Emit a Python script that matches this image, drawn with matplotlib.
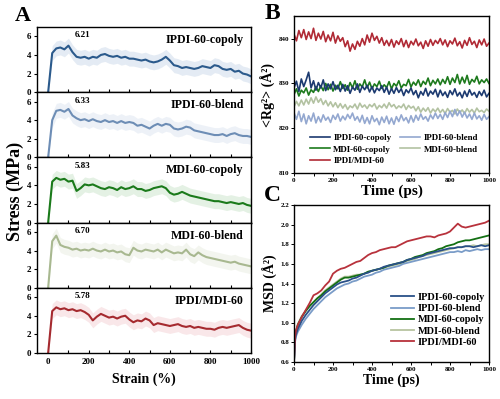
import numpy as np
import matplotlib
matplotlib.use('Agg')
import matplotlib.pyplot as plt
from matplotlib.ticker import MultipleLocator

plt.rcParams['font.family'] = ['Liberation Serif', 'DejaVu Serif']
plt.rcParams['font.weight'] = 'bold'
plt.rcParams['axes.linewidth'] = 1.0

# ---------------- data ----------------
# A: stress-strain, sampled every 20 % strain
strain = np.arange(0, 1001, 20)
stress_names = ['IPDI-60-copoly', 'IPDI-60-blend', 'MDI-60-copoly', 'MDI-60-blend', 'IPDI/MDI-60']
stress_peaks = ['6.21', '6.33', '5.83', '6.70', '5.78']
stress_ipdi_copoly = [0, 4.2, 4.7, 4.8, 4.6, 5.0, 4.3, 3.8, 3.7, 3.8, 3.6, 3.8, 3.7, 4.0, 4.1, 3.9, 3.8,
                      3.9, 3.7, 3.8, 3.6, 3.6, 3.5, 3.4, 3.5, 3.3, 3.2, 3.3, 3.5, 3.8, 3.4, 2.9, 2.8,
                      2.6, 2.7, 2.6, 2.5, 2.6, 2.8, 2.7, 2.6, 2.9, 2.8, 2.5, 2.4, 2.5, 2.2, 2.3, 2.0,
                      1.9, 1.7]
stress_ipdi_blend = [0, 4.0, 5.0, 5.1, 4.9, 5.2, 4.5, 4.2, 4.0, 4.1, 3.9, 4.1, 3.9, 3.8, 4.0, 3.8, 3.9,
                     3.7, 3.9, 3.7, 3.8, 3.7, 3.4, 3.5, 3.3, 3.1, 3.4, 3.6, 3.4, 3.6, 3.5, 3.1, 3.0,
                     3.1, 3.3, 3.2, 2.9, 2.8, 2.7, 2.6, 2.5, 2.4, 2.4, 2.5, 2.3, 2.5, 2.6, 2.4, 2.3,
                     2.3, 2.2]
stress_mdi_copoly = [0, 4.4, 4.8, 4.6, 4.7, 4.4, 4.5, 3.4, 3.7, 4.1, 4.0, 4.1, 3.9, 3.7, 3.6, 3.8, 3.7,
                     3.5, 3.8, 3.6, 3.7, 3.9, 3.6, 3.6, 3.4, 3.5, 3.7, 3.8, 3.9, 3.7, 3.2, 3.0, 3.1,
                     3.3, 3.1, 2.9, 2.8, 2.7, 2.6, 2.5, 2.4, 2.3, 2.3, 2.2, 2.1, 2.2, 2.1, 2.0, 2.1,
                     1.9, 1.8]
stress_mdi_blend = [0, 5.0, 5.6, 4.6, 4.4, 4.3, 4.1, 4.2, 4.0, 4.1, 4.0, 4.2, 4.0, 3.9, 4.1, 3.9, 4.0,
                    3.8, 3.9, 3.6, 3.5, 4.3, 4.0, 3.9, 4.1, 4.0, 3.9, 4.1, 3.8, 4.1, 3.9, 3.7, 3.8,
                    3.7, 4.1, 3.6, 3.4, 3.8, 3.5, 3.3, 3.2, 3.1, 3.0, 2.9, 2.8, 2.7, 2.8, 2.6, 2.5,
                    2.4, 2.3]
stress_mix = [0, 4.5, 4.9, 4.7, 4.8, 4.6, 4.7, 4.5, 4.6, 4.4, 4.1, 3.5, 3.9, 4.2, 4.0, 3.8, 3.9,
              3.7, 3.9, 4.0, 3.6, 3.3, 3.5, 3.4, 3.7, 3.5, 3.0, 3.2, 3.1, 3.0, 2.9, 3.0, 3.1,
              2.9, 2.8, 2.9, 2.7, 2.8, 2.7, 2.6, 2.6, 2.5, 2.7, 2.8, 2.7, 2.8, 2.9, 3.0, 2.7,
              2.5, 2.4]
stress_colors = ['#2b5a8c', '#6d8db5', '#1a7a1a', '#a8b890', '#a52a2f']
stress_band = ['#b4c8e0', '#ccd9ea', '#b4d8b4', '#dde4d2', '#eebcc0']

# B: <Rg^2>, sampled every 12.5 ps
time_b = np.linspace(0, 1000, 81)
rg_ipdi_copoly = [829.0, 830.5, 828.2, 831.0, 829.3, 830.8, 832.5, 829.0, 830.6, 828.5,
                  830.2, 829.0, 830.8, 828.4, 829.9, 828.8, 830.4, 828.6, 829.6, 828.2,
                  829.8, 828.3, 829.5, 827.8, 829.2, 828.5, 829.9, 828.0, 829.4, 828.6,
                  829.6, 828.1, 829.3, 827.9, 829.0, 828.4, 829.5, 828.0, 829.2, 827.6,
                  828.9, 827.8, 829.1, 828.0, 828.8, 827.3, 828.6, 827.9, 829.0, 827.5,
                  828.4, 826.8, 828.2, 827.4, 828.9, 827.2, 828.3, 827.6, 828.7, 827.0,
                  828.5, 827.3, 828.1, 826.9, 828.4, 827.5, 828.8, 827.2, 828.0, 826.8,
                  828.3, 827.1, 828.6, 827.4, 828.0, 826.9, 828.2, 827.3, 828.5, 827.0, 827.8]
rg_ipdi_blend = [823.5, 822.0, 823.8, 821.5, 823.2, 821.0, 822.8, 821.6, 823.4, 821.2,
                 822.6, 821.4, 823.0, 821.8, 822.5, 821.3, 822.9, 822.0, 823.2, 821.6,
                 822.7, 821.9, 823.1, 822.2, 823.4, 821.8, 822.6, 821.4, 822.9, 821.1,
                 822.4, 821.0, 822.8, 821.5, 822.2, 820.8, 822.5, 821.3, 822.7, 821.0,
                 822.3, 820.9, 822.6, 821.5, 823.0, 821.7, 822.4, 821.2, 822.8, 821.4,
                 822.9, 821.8, 823.2, 822.0, 822.6, 821.6, 823.0, 822.1, 823.4, 822.2,
                 823.1, 822.0, 823.5, 822.4, 823.8, 822.6, 824.2, 822.8, 823.9, 822.5,
                 823.6, 822.3, 823.2, 822.0, 823.4, 822.1, 822.8, 821.8, 823.1, 822.0, 822.6]
rg_mdi_copoly = [827.5, 828.8, 827.2, 828.5, 827.9, 829.0, 827.4, 828.6, 828.0, 829.3,
                 828.2, 829.5, 828.4, 830.0, 828.6, 829.8, 828.3, 829.6, 828.8, 830.4,
                 828.9, 829.7, 828.5, 830.2, 829.0, 830.6, 828.7, 829.9, 829.2, 830.8,
                 829.0, 830.3, 828.8, 829.9, 829.3, 830.5, 828.9, 829.7, 829.1, 830.4,
                 828.8, 830.0, 829.4, 830.6, 829.0, 829.8, 829.5, 830.9, 829.2, 830.3,
                 829.6, 830.8, 829.3, 830.5, 829.8, 831.2, 829.5, 830.7, 829.9, 831.0,
                 829.7, 830.9, 830.0, 831.5, 829.8, 831.2, 830.2, 832.0, 829.9, 831.4,
                 830.1, 831.8, 829.8, 830.9, 830.3, 831.6, 829.9, 830.8, 830.2, 831.0, 830.0]
rg_mdi_blend = [824.8, 826.0, 825.0, 826.3, 825.2, 826.5, 825.4, 826.8, 825.6, 827.0,
                825.8, 826.6, 825.3, 826.2, 825.0, 825.9, 824.8, 825.7, 824.6, 825.5,
                824.5, 825.3, 824.2, 825.0, 824.6, 825.4, 824.3, 825.6, 824.7, 825.2,
                824.4, 825.3, 824.8, 825.5, 824.3, 825.1, 824.6, 825.4, 824.5, 825.7,
                824.8, 825.3, 824.4, 825.0, 824.6, 825.4, 824.2, 825.1, 824.5, 824.9,
                823.9, 824.8, 823.6, 824.5, 823.8, 824.6, 823.4, 824.3, 823.7, 824.5,
                823.5, 824.2, 823.3, 824.4, 823.6, 824.0, 823.2, 824.3, 823.5, 824.1,
                823.3, 824.4, 823.6, 824.2, 823.4, 824.5, 823.7, 824.0, 823.5, 824.3, 823.8]
rg_mix = [841.0, 839.5, 841.8, 840.2, 842.0, 839.8, 841.5, 840.0, 842.3, 839.6,
          841.2, 839.9, 841.6, 839.3, 840.8, 839.5, 841.4, 839.0, 840.6, 839.4,
          840.2, 838.2, 839.5, 837.2, 838.8, 837.6, 839.4, 838.3, 840.0, 838.6,
          840.8, 839.2, 841.2, 839.6, 840.5, 839.0, 840.2, 838.5, 839.6, 838.4,
          839.8, 838.1, 839.5, 838.7, 840.0, 838.2, 839.6, 838.0, 839.4, 838.6,
          839.9, 838.4, 839.2, 837.8, 839.5, 838.3, 839.8, 838.5, 839.6, 838.9,
          840.0, 838.6, 839.7, 838.2, 839.5, 838.8, 840.1, 838.4, 839.3, 837.9,
          839.6, 838.5, 840.2, 838.7, 839.4, 838.0, 839.7, 838.6, 839.9, 838.3, 839.0]

# C: MSD
time_c = [0, 5, 10] + list(range(20, 1001, 20))
msd_ipdi_copoly = [0.60, 0.82, 0.88, 0.94, 1.02, 1.08, 1.13, 1.18, 1.22, 1.26, 1.30, 1.33, 1.36, 1.39,
                   1.41, 1.42, 1.43, 1.45, 1.46, 1.48, 1.50, 1.51, 1.53, 1.54, 1.55, 1.57, 1.58, 1.59,
                   1.60, 1.61, 1.62, 1.64, 1.65, 1.66, 1.67, 1.68, 1.70, 1.71, 1.72, 1.73, 1.74, 1.75,
                   1.76, 1.76, 1.77, 1.77, 1.78, 1.78, 1.77, 1.78, 1.79, 1.78, 1.79]
msd_ipdi_blend = [0.60, 0.80, 0.86, 0.91, 0.98, 1.04, 1.09, 1.14, 1.18, 1.22, 1.26, 1.29, 1.32, 1.35,
                  1.37, 1.39, 1.40, 1.42, 1.43, 1.45, 1.47, 1.48, 1.49, 1.51, 1.52, 1.54, 1.55, 1.56,
                  1.57, 1.58, 1.60, 1.61, 1.62, 1.63, 1.64, 1.65, 1.66, 1.67, 1.68, 1.69, 1.70, 1.71,
                  1.72, 1.72, 1.73, 1.72, 1.74, 1.73, 1.74, 1.75, 1.74, 1.75, 1.75]
msd_mdi_copoly = [0.60, 0.85, 0.91, 0.98, 1.06, 1.12, 1.17, 1.21, 1.25, 1.28, 1.32, 1.35, 1.38, 1.41,
                  1.44, 1.46, 1.46, 1.47, 1.48, 1.49, 1.50, 1.52, 1.53, 1.54, 1.55, 1.56, 1.58, 1.59,
                  1.60, 1.61, 1.62, 1.64, 1.65, 1.67, 1.68, 1.69, 1.71, 1.72, 1.73, 1.75, 1.76, 1.78,
                  1.79, 1.80, 1.82, 1.83, 1.84, 1.84, 1.85, 1.86, 1.87, 1.88, 1.89]
msd_mdi_blend = [0.60, 0.86, 0.92, 0.99, 1.07, 1.12, 1.17, 1.21, 1.25, 1.29, 1.33, 1.36, 1.39, 1.42,
                 1.45, 1.47, 1.47, 1.48, 1.49, 1.49, 1.50, 1.52, 1.53, 1.54, 1.55, 1.56, 1.57, 1.58,
                 1.59, 1.60, 1.61, 1.63, 1.64, 1.65, 1.67, 1.68, 1.69, 1.70, 1.71, 1.72, 1.73, 1.74,
                 1.75, 1.76, 1.77, 1.77, 1.78, 1.78, 1.79, 1.78, 1.79, 1.80, 1.80]
msd_mix = [0.60, 0.85, 0.92, 0.98, 1.06, 1.13, 1.20, 1.28, 1.30, 1.33, 1.38, 1.42, 1.50, 1.53,
           1.55, 1.56, 1.58, 1.60, 1.62, 1.63, 1.66, 1.69, 1.71, 1.72, 1.74, 1.75, 1.76, 1.77,
           1.77, 1.79, 1.81, 1.83, 1.84, 1.85, 1.86, 1.87, 1.88, 1.88, 1.87, 1.89, 1.90, 1.91,
           1.93, 1.97, 2.01, 1.98, 1.97, 1.98, 1.99, 2.00, 2.01, 2.02, 2.04]

series_names = ['IPDI-60-copoly', 'IPDI-60-blend', 'MDI-60-copoly', 'MDI-60-blend', 'IPDI/MDI-60']
rg_colors = ['#1c3a70', '#94a8d0', '#1d7a1d', '#b3c2a2', '#b02a35']
msd_colors = ['#2a5088', '#7a9cc8', '#137013', '#b8c4a0', '#b8323c']

# ---------------- figure ----------------
fig = plt.figure(figsize=(5.0, 3.99), dpi=100)

# panel A: five stacked stress-strain plots
stress_all = [stress_ipdi_copoly, stress_ipdi_blend, stress_mdi_copoly, stress_mdi_blend, stress_mix]
top_px, h_px = 27, 65.2
axes_a = []
for k in range(5):
    bottom = 1 - (top_px + h_px * (k + 1)) / 399
    ax = fig.add_axes([0.074, bottom, 0.428, h_px / 399])
    y = np.array(stress_all[k])
    ax.fill_between(strain, np.clip(y - 0.8, 0, None), y + 0.8, color=stress_band[k], alpha=0.35, lw=0)
    ax.plot(strain, y, color=stress_colors[k], lw=1.5)
    ax.set_xlim(-55, 1000)
    ax.set_ylim(0, 7)
    ax.set_yticks([0, 2, 4, 6])
    ax.xaxis.set_major_locator(MultipleLocator(200))
    ax.xaxis.set_minor_locator(MultipleLocator(100))
    ax.tick_params(axis='x', which='both', direction='in', length=2.5, width=0.8, labelsize=6.5)
    ax.tick_params(axis='y', direction='out', length=2.5, width=0.8, labelsize=6.5, pad=1.5)
    if k < 4:
        ax.tick_params(axis='x', labelbottom=False)
    ax.text(172, 0.87, stress_peaks[k], transform=ax.get_xaxis_transform(),
            fontsize=6.5, fontweight='bold', ha='center', va='center')
    ax.text(0.965, 0.8, stress_names[k], transform=ax.transAxes,
            fontsize=8.6, fontweight='bold', ha='right', va='center')
    axes_a.append(ax)

axes_a[-1].set_xlabel('Strain (%)', fontsize=10, fontweight='bold', labelpad=5)
fig.text(0.03, 0.52, 'Stress (MPa)', rotation=90, fontsize=13, fontweight='bold',
         ha='center', va='center')
fig.text(0.045, 0.96, 'A', fontsize=16, fontweight='bold', ha='center', va='center')

# panel B
ax_b = fig.add_axes([0.588, 0.566, 0.39, 0.3935])
rg_all = [rg_ipdi_copoly, rg_ipdi_blend, rg_mdi_copoly, rg_mdi_blend, rg_mix]
lines_b = {}
for k in [4, 2, 0, 3, 1]:
    lines_b[k], = ax_b.plot(time_b, rg_all[k], color=rg_colors[k], lw=1.2, label=series_names[k])
ax_b.set_xlim(0, 1000)
ax_b.set_ylim(810, 845)
ax_b.set_yticks([810, 820, 830, 840])
ax_b.xaxis.set_major_locator(MultipleLocator(200))
ax_b.xaxis.set_minor_locator(MultipleLocator(100))
ax_b.tick_params(which='both', direction='out', length=2, width=0.7, labelsize=5, pad=1.5)
ax_b.set_xlabel('Time (ps)', fontsize=11, fontweight='bold', labelpad=1)
ax_b.set_ylabel('<Rg²> (Å²)', fontsize=10, fontweight='bold', labelpad=2)
order = [0, 2, 4, 1, 3]
ax_b.legend([lines_b[k] for k in order], [series_names[k] for k in order], ncol=2,
            loc='lower left', bbox_to_anchor=(0.065, 0.03), frameon=False,
            prop={'size': 6.4, 'weight': 'bold'}, handlelength=2.2, handletextpad=0.4,
            columnspacing=1.0, labelspacing=0.35, borderaxespad=0)
fig.text(0.545, 0.965, 'B', fontsize=17, fontweight='bold', ha='center', va='center')

# panel C
ax_c = fig.add_axes([0.588, 0.0927, 0.39, 0.3935])
msd_all = [msd_ipdi_copoly, msd_ipdi_blend, msd_mdi_copoly, msd_mdi_blend, msd_mix]
lines_c = {}
for k in [3, 2, 1, 0, 4]:
    lines_c[k], = ax_c.plot(time_c, msd_all[k], color=msd_colors[k], lw=1.3, label=series_names[k])
ax_c.set_xlim(0, 1000)
ax_c.set_ylim(0.6, 2.2)
ax_c.yaxis.set_major_locator(MultipleLocator(0.2))
ax_c.xaxis.set_major_locator(MultipleLocator(200))
ax_c.xaxis.set_minor_locator(MultipleLocator(100))
ax_c.tick_params(which='both', direction='out', length=2, width=0.7, labelsize=5, pad=1.5)
ax_c.set_xlabel('Time (ps)', fontsize=10, fontweight='bold', labelpad=1)
ax_c.set_ylabel('MSD (Å²)', fontsize=10, fontweight='bold', labelpad=2)
ax_c.legend([lines_c[k] for k in range(5)], series_names, loc='lower right',
            bbox_to_anchor=(1.0, 0.07), frameon=False,
            prop={'size': 7.4, 'weight': 'bold'}, handlelength=2.2, handletextpad=0.4,
            labelspacing=0.2, borderaxespad=0)
fig.text(0.545, 0.51, 'C', fontsize=17, fontweight='bold', ha='center', va='center')

fig.savefig('out.png', dpi=100)
